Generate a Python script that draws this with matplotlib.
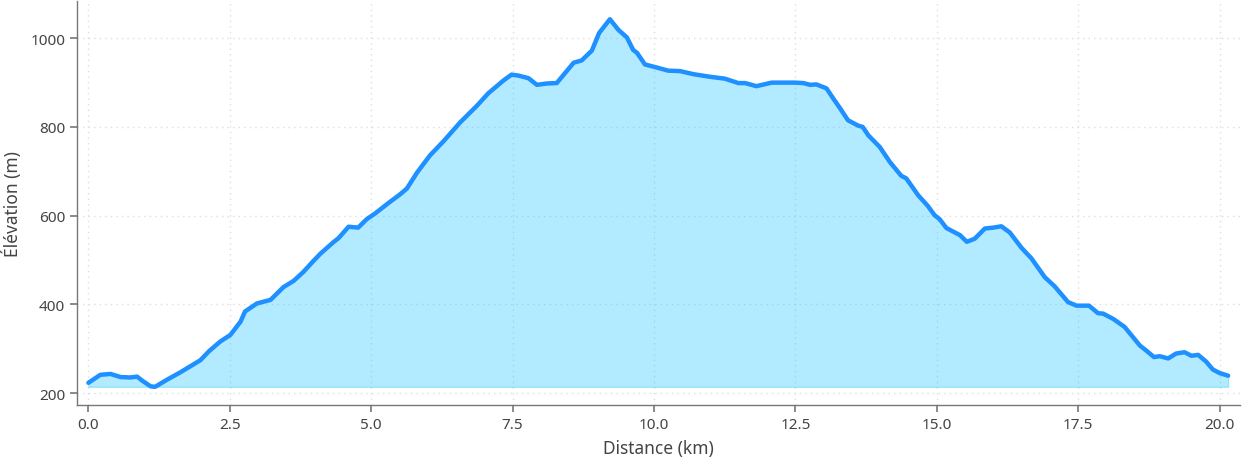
import matplotlib
matplotlib.use("Agg")
import matplotlib.pyplot as plt
import numpy as np

plt.rcParams['font.family'] = ['Noto Sans', 'DejaVu Sans']

distance_km = [0.00, 0.21, 0.39, 0.57, 0.74, 0.86, 0.95, 1.10, 1.18, 1.39, 1.63, 1.98,
               2.13, 2.33, 2.51, 2.69, 2.77, 2.98, 3.22, 3.45, 3.63, 3.80, 3.98, 4.10,
               4.33, 4.42, 4.60, 4.77, 4.92, 5.07, 5.30, 5.51, 5.63, 5.81, 6.04, 6.28,
               6.57, 6.87, 7.07, 7.34, 7.48, 7.60, 7.78, 7.93, 8.10, 8.28, 8.43, 8.58,
               8.72, 8.90, 9.03, 9.22, 9.37, 9.52, 9.63, 9.70, 9.84, 10.05, 10.25, 10.46,
               10.70, 11.00, 11.25, 11.49, 11.61, 11.81, 12.08, 12.25, 12.49, 12.64, 12.76,
               12.87, 13.05, 13.17, 13.29, 13.43, 13.61, 13.69, 13.79, 13.99, 14.17, 14.37,
               14.46, 14.67, 14.84, 14.96, 15.05, 15.17, 15.41, 15.53, 15.67, 15.85, 16.00,
               16.14, 16.29, 16.50, 16.67, 16.91, 17.08, 17.32, 17.47, 17.69, 17.85, 17.94,
               18.12, 18.32, 18.59, 18.70, 18.84, 18.94, 19.09, 19.23, 19.38, 19.50, 19.62,
               19.76, 19.88, 20.00, 20.15]
elevation_m = [223, 241, 243, 236, 235, 237, 228, 215, 214, 230, 247, 274,
               294, 316, 331, 361, 384, 402, 410, 439, 453, 473, 498, 514,
               540, 549, 575, 573, 592, 605, 628, 648, 661, 697, 736, 768,
               810, 848, 876, 905, 918, 916, 910, 895, 898, 899, 922, 945,
               950, 972, 1012, 1043, 1019, 1002, 974, 967, 941, 934, 927, 926,
               919, 913, 909, 899, 899, 892, 900, 900, 900, 899, 895,
               896, 887, 864, 842, 815, 803, 800, 781, 755, 721, 690,
               684, 646, 622, 601, 592, 572, 556, 541, 548, 571, 573,
               576, 562, 527, 504, 461, 441, 405, 397, 397, 380, 379,
               367, 349, 307, 296, 281, 283, 278, 289, 292, 284, 286,
               271, 253, 245, 239]

x = np.array(distance_km)
y = np.array(elevation_m)

fig = plt.figure(figsize=(12.42, 4.6), dpi=100)
ax = fig.add_axes([0.062, 0.117, 0.936, 0.879])

ax.fill_between(x, y, y.min(), color='#00BFFF', alpha=0.3, linewidth=1)
ax.plot(x, y, color='#1E90FF', linewidth=3.2, solid_capstyle='round', solid_joinstyle='round')

ax.margins(x=0.01, y=0.05)
ax.set_xticks([0, 2.5, 5, 7.5, 10, 12.5, 15, 17.5, 20])
ax.set_yticks([200, 400, 600, 800, 1000])
ax.grid(True, linestyle=(0, (1, 3)), color='#dedede', linewidth=1)
ax.set_axisbelow(True)

for s in ['top', 'right']:
    ax.spines[s].set_visible(False)
for s in ['left', 'bottom']:
    ax.spines[s].set_color('#777777')
    ax.spines[s].set_linewidth(1)

ax.tick_params(axis='both', colors='#777777', labelcolor='#444444', labelsize=11, length=5, width=1.2)
ax.set_xlabel('Distance (km)', fontsize=12.5, color='#444444', labelpad=5)
ax.set_ylabel('Élévation (m)', fontsize=12.5, color='#444444', labelpad=6)

fig.savefig('out.png', dpi=100)
